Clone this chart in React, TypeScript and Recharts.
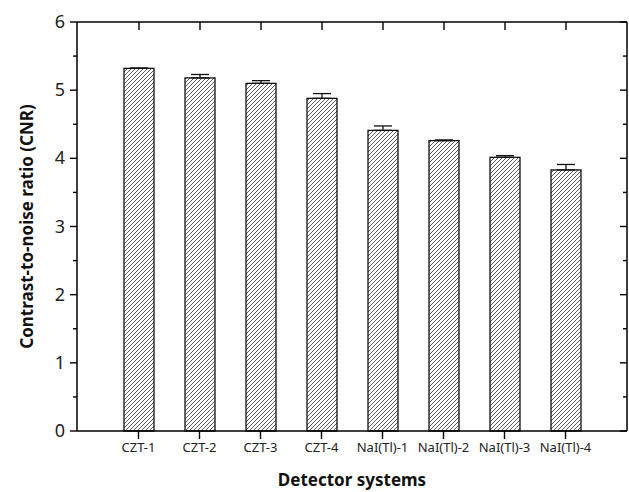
import React from 'react'
import { BarChart, Bar, XAxis, YAxis, ErrorBar, Label, ReferenceLine } from 'recharts'

const detectors = ['CZT-1', 'CZT-2', 'CZT-3', 'CZT-4', 'NaI(Tl)-1', 'NaI(Tl)-2', 'NaI(Tl)-3', 'NaI(Tl)-4']
const cnr = [5.32, 5.18, 5.1, 4.88, 4.41, 4.26, 4.015, 3.83]
const cnrErr = [0.005, 0.05, 0.04, 0.07, 0.065, 0.01, 0.025, 0.08]
const yTicks = [0, 0.5, 1, 1.5, 2, 2.5, 3, 3.5, 4, 4.5, 5, 5.5, 6]

const data = detectors.map((name, i) => ({ name, cnr: cnr[i], err: [0, cnrErr[i]] }))

const FONT = '"Noto Sans", "Open Sans", sans-serif'

// plot top, picked up from the y=6 reference line
const frame = { top: NaN }

// left axis: outward ticks, long on integers, short on halves
const LeftTick = (props: any) => {
  const { x, y, payload } = props
  const major = Number.isInteger(payload.value)
  return (
    <g>
      <line x1={x} x2={x - (major ? 7 : 4)} y1={y} y2={y} stroke="#000" strokeWidth={1.4} />
      {major && (
        <text x={x - 12} y={y} dy={6} textAnchor="end" fontSize={18} fill="#222" fontFamily={FONT}>
          {payload.value}
        </text>
      )}
    </g>
  )
}

// right frame edge: inward ticks, plus top edge at 6 and vertical edge from 0
const rightTickShape = (v: number) => (p: any) => {
  const xl = Math.min(p.x1, p.x2)
  const xr = Math.max(p.x1, p.x2)
  const y = p.y1
  if (v === 6) frame.top = y
  const major = Number.isInteger(v)
  return (
    <g>
      <line x1={xr} x2={xr - (major ? 7 : 4)} y1={y} y2={y} stroke="#000" strokeWidth={1.4} />
      {v === 6 && <line x1={xl} x2={xr} y1={y} y2={y} stroke="#000" strokeWidth={1.5} />}
      {v === 0 && Number.isFinite(frame.top) && (
        <line x1={xr} x2={xr} y1={y} y2={frame.top} stroke="#000" strokeWidth={1.5} />
      )}
    </g>
  )
}

// hatched bar, with its inward tick on the top frame edge
const HatchBar = (p: any) => {
  const { x, y, width, height, background } = p
  const cx = x + width / 2
  const top = Number.isFinite(frame.top) ? frame.top : background?.y
  return (
    <g>
      <rect x={x} y={y} width={width} height={height} fill="url(#hatch)" stroke="#111" strokeWidth={1.3} />
      {Number.isFinite(top) && <line x1={cx} x2={cx} y1={top} y2={top + 8} stroke="#000" strokeWidth={1.4} />}
    </g>
  )
}

export default function App() {
  return (
    <div style={{ position: 'absolute', left: 0, top: 0, background: '#fff' }}>
      <BarChart width={629} height={492} data={data} margin={{ top: 22, right: 2, bottom: 0, left: 0 }}>
        <defs>
          <pattern id="hatch" patternUnits="userSpaceOnUse" width={4} height={4}>
            <path d="M-1,1 l2,-2 M0,4 l4,-4 M3,5 l2,-2" stroke="#333" strokeWidth={0.8} />
          </pattern>
        </defs>
        <XAxis
          dataKey="name"
          interval={0}
          height={61}
          padding={{ left: 31, right: 31 }}
          axisLine={{ stroke: '#000', strokeWidth: 1.5 }}
          tickLine={{ stroke: '#000', strokeWidth: 1.4 }}
          tickSize={8}
          tickMargin={4}
          tick={{ fontSize: 13, fill: '#222', fontFamily: FONT }}
        >
          <Label
            content={({ viewBox }: any) => (
              <text
                x={viewBox.x + viewBox.width / 2}
                y={viewBox.y + viewBox.height - 6}
                textAnchor="middle"
                fontSize={17}
                fontWeight="bold"
                fill="#111"
                fontFamily={FONT}
              >
                Detector systems
              </text>
            )}
          />
        </XAxis>
        <YAxis
          domain={[0, 6]}
          ticks={yTicks}
          interval={0}
          width={77}
          axisLine={{ stroke: '#000', strokeWidth: 1.5 }}
          tickLine={false}
          tickSize={0}
          tickMargin={0}
          tick={<LeftTick />}
        >
          <Label
            content={({ viewBox }: any) => {
              const cx = viewBox.x + 27
              const cy = viewBox.y + viewBox.height / 2
              return (
                <text
                  x={cx}
                  y={cy}
                  transform={`rotate(-90 ${cx} ${cy})`}
                  textAnchor="middle"
                  dy={6}
                  fontSize={17}
                  fontWeight="bold"
                  fill="#111"
                  fontFamily={FONT}
                >
                  Contrast-to-noise ratio (CNR)
                </text>
              )
            }}
          />
        </YAxis>
        {[...yTicks].reverse().map((v) => (
          <ReferenceLine key={`r${v}`} y={v} shape={rightTickShape(v)} />
        ))}
        <Bar dataKey="cnr" barSize={30} shape={<HatchBar />} isAnimationActive={false}>
          <ErrorBar dataKey="err" direction="y" width={9} stroke="#111" strokeWidth={1.3} isAnimationActive={false} />
        </Bar>
      </BarChart>
    </div>
  )
}
